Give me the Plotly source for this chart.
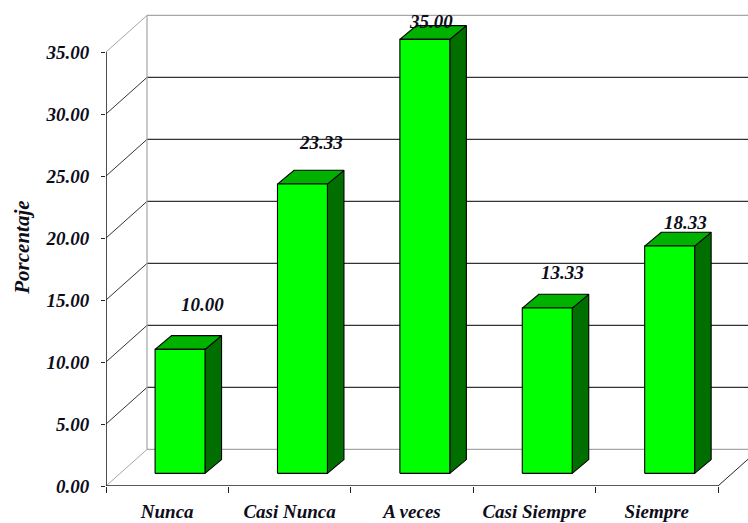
import plotly.graph_objects as go

# Survey answers and their percentages
categories = ["Nunca", "Casi Nunca", "A veces", "Casi Siempre", "Siempre"]
porcentaje = [10.00, 23.33, 35.00, 13.33, 18.33]
y_ticks = [0, 5, 10, 15, 20, 25, 30, 35]

# Oblique-projection geometry (axis units)
WALL_DX, WALL_DY = 0.335, 2.95      # depth of the back wall
BAR_SHIFT, BAR_BASE = 0.105, 1.02   # where the bar front face sits inside the box
BAR_HALF = 0.204                    # half width of a bar
BAR_DX, BAR_DY = 0.135, 1.11        # depth of each bar
X_LEFT, X_RIGHT = -0.5, 4.5
Y_TOP = 35

FONT = "Liberation Serif"
TXT = "#0d0d1a"
GRID_DARK = "#333333"
GRID_LIGHT = "#a6a6a6"

fig = go.Figure()


def line(xs, ys, color, width=1.2):
    fig.add_trace(go.Scatter(x=xs, y=ys, mode="lines", hoverinfo="skip",
                             line=dict(color=color, width=width), showlegend=False))


def poly(xs, ys, fill):
    fig.add_trace(go.Scatter(x=xs + [xs[0]], y=ys + [ys[0]], mode="lines",
                             fill="toself", fillcolor=fill, hoverinfo="skip",
                             line=dict(color="black", width=1.1), showlegend=False))


# Back wall gridlines and the diagonals joining them to the value axis
for v in y_ticks:
    edge = v in (0, Y_TOP)
    col = GRID_LIGHT if edge else GRID_DARK
    line([X_LEFT + WALL_DX, X_RIGHT + 1.0], [v + WALL_DY, v + WALL_DY], col, 1.3)
    line([X_LEFT, X_LEFT + WALL_DX], [v, v + WALL_DY], col, 1.0)

# Back wall left edge and right floor edge
line([X_LEFT + WALL_DX, X_LEFT + WALL_DX], [WALL_DY, Y_TOP + WALL_DY], GRID_LIGHT)
line([X_RIGHT, X_RIGHT + WALL_DX], [0, WALL_DY], "#222222", 1.0)

# Front axis lines
line([X_LEFT, X_LEFT], [0, Y_TOP], "#222222", 1.6)
line([X_LEFT, X_RIGHT], [0, 0], "#222222", 1.6)

# 3D bars: side face, top face, front face
for i, v in enumerate(porcentaje):
    x0 = i + BAR_SHIFT - BAR_HALF
    x1 = i + BAR_SHIFT + BAR_HALF
    y0 = BAR_BASE
    y1 = BAR_BASE + v
    poly([x1, x1 + BAR_DX, x1 + BAR_DX, x1], [y0, y0 + BAR_DY, y1 + BAR_DY, y1], "#006f00")
    poly([x0, x0 + BAR_DX, x1 + BAR_DX, x1], [y1, y1 + BAR_DY, y1 + BAR_DY, y1], "#00b200")
    poly([x0, x1, x1, x0], [y0, y0, y1, y1], "#00ff00")

# Value labels above each bar (pixel nudges)
label_dx = [22, 19, 6, 15, 16]
label_dy = [45, 42, 18, 36, 24]
for i, v in enumerate(porcentaje):
    fig.add_annotation(x=i + BAR_SHIFT, y=BAR_BASE + v, text=f"{v:.2f}",
                       showarrow=False, xshift=label_dx[i], yshift=label_dy[i],
                       font=dict(family=FONT, size=19, color=TXT,
                                 weight="bold", style="italic"))

# Axis title
fig.add_annotation(x=-0.131, y=0.49, xref="paper", yref="paper", text="Porcentaje",
                   textangle=-90, showarrow=False, xanchor="center", yanchor="middle",
                   font=dict(family=FONT, size=21, color=TXT, weight="bold", style="italic"))

fig.update_layout(
    width=748, height=523,
    margin=dict(l=106, r=0, t=0, b=37),
    paper_bgcolor="white", plot_bgcolor="white",
    showlegend=False,
    xaxis=dict(
        range=[X_LEFT, X_LEFT + 642 / 122.4],
        tickvals=list(range(len(categories))), ticktext=categories,
        ticks="", showgrid=False, zeroline=False, showline=False,
        ticklabelstandoff=12,
        tickfont=dict(family=FONT, size=19, color=TXT, weight="bold", style="italic"),
        minor=dict(tickvals=[k - 0.5 for k in range(len(categories) + 1)],
                   ticks="outside", ticklen=6, tickwidth=1.3, tickcolor="#222222",
                   showgrid=False),
    ),
    yaxis=dict(
        range=[0, 486 / 12.4],
        tickvals=y_ticks, ticktext=[f"{t:.2f}" for t in y_ticks],
        ticks="outside", ticklen=4, tickwidth=1.3, tickcolor="#222222",
        ticklabelstandoff=8,
        showgrid=False, zeroline=False, showline=False,
        tickfont=dict(family=FONT, size=19, color=TXT, weight="bold", style="italic"),
    ),
)

fig.write_html("out.html")
